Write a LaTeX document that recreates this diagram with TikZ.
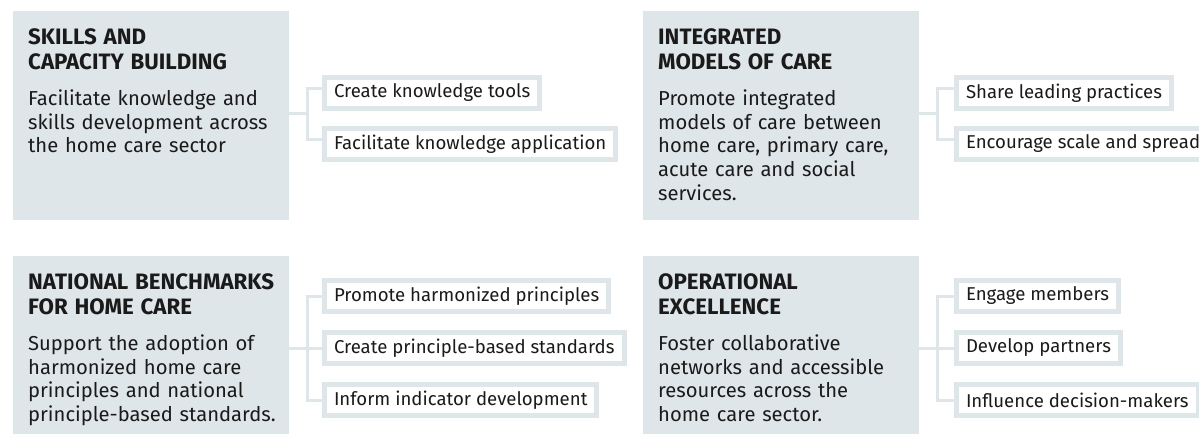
\documentclass[tikz,border=0pt]{standalone}
\usepackage{fontspec}
\setmainfont{Fira Sans}
\usetikzlibrary{positioning}

\definecolor{panel}{HTML}{DFE6E9}
\definecolor{ink}{HTML}{1A1A1A}

\newcommand{\heading}[1]{{\bfseries\fontsize{22.3}{25}\selectfont #1\par}\vspace{13pt}}

\tikzset{
  bigbox/.style={anchor=north west, fill=panel, minimum width=276pt, inner sep=0pt},
  boxtext/.style={anchor=north west, align=left, text width=266pt, inner sep=0pt,
    text=ink, font=\fontsize{20.2}{23.6}\selectfont},
  action/.style={anchor=west, draw=panel, line width=5pt, fill=white,
    minimum height=31pt, inner xsep=9.5pt, text=ink, font=\fontsize{18.6}{20}\selectfont},
  link/.style={draw=panel, line width=3pt},
}

\begin{document}
\begin{tikzpicture}[x=1pt,y=-1pt]
\useasboundingbox (0,0) rectangle (1199,434);

% skills and capacity building
\node[bigbox, minimum height=209pt] (skills) at (13,11) {};
\node[boxtext] (skillstxt) at (28,28) {\heading{SKILLS AND\\CAPACITY BUILDING}Facilitate knowledge and\\skills development across\\the home care sector};
\node[action] (tools) at (322,93) {Create knowledge tools};
\node[action] (applic) at (322,144) {Facilitate knowledge application};
\coordinate (skj) at (307,113);
\draw[link] (skills.east |- skj) -- (skj);
\draw[link] ([yshift=5pt]tools.west) -| (skj) |- ([yshift=5pt]applic.west);

% integrated models of care
\node[bigbox, minimum height=209pt] (models) at (643,11) {};
\node[boxtext] (modelstxt) at (658,28) {\heading{INTEGRATED\\MODELS OF CARE}Promote integrated\\models of care between\\home care, primary care,\\acute care and social\\services.};
\node[action] (share) at (954,93) {Share leading practices};
\node[action] (spread) at (954,144) {Encourage scale and spread};
\coordinate (moj) at (937,113);
\draw[link] (models.east |- moj) -- (moj);
\draw[link] ([yshift=5pt]share.west) -| (moj) |- ([yshift=5pt]spread.west);

% national benchmarks for home care
\node[bigbox, minimum height=178pt] (bench) at (13,256) {};
\node[boxtext] (benchtxt) at (28,273) {\heading{NATIONAL BENCHMARKS\\FOR HOME CARE}Support the adoption of\\harmonized home care\\principles and national\\principle-based standards.};
\node[action] (harmon) at (322,296) {Promote harmonized principles};
\node[action] (standards) at (322,348) {Create principle-based standards};
\node[action] (indic) at (322,400) {Inform indicator development};
\coordinate (bej) at (307,348);
\draw[link] (bench.east |- bej) -- (standards.west);
\draw[link] (harmon.west) -| (bej) |- (indic.west);

% operational excellence
\node[bigbox, minimum height=178pt] (oper) at (643,256) {};
\node[boxtext] (opertxt) at (658,273) {\heading{OPERATIONAL\\EXCELLENCE}Foster collaborative\\networks and accessible\\resources across the\\home care sector.};
\node[action] (engage) at (954,296) {Engage members};
\node[action] (partners) at (954,348) {Develop partners};
\node[action] (influence) at (954,400) {Influence decision-makers};
\coordinate (opj) at (937,348);
\draw[link] (oper.east |- opj) -- (partners.west);
\draw[link] (engage.west) -| (opj) |- (influence.west);
\end{tikzpicture}
\end{document}
